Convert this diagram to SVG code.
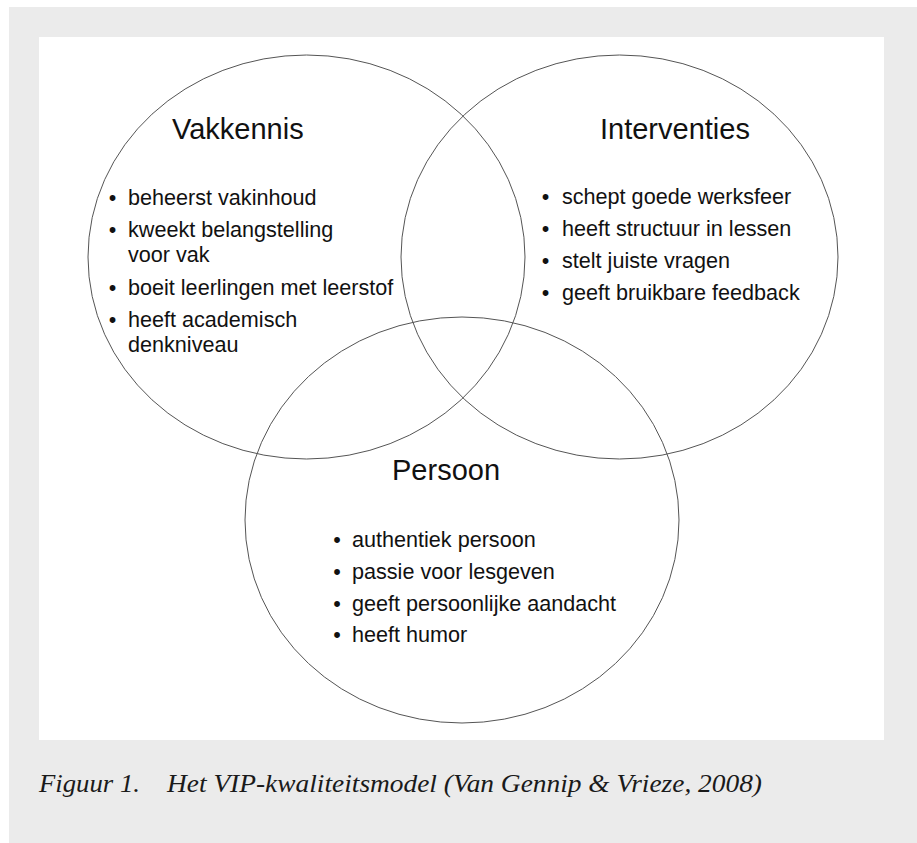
<svg xmlns="http://www.w3.org/2000/svg" width="917" height="843" viewBox="0 0 917 843">
  <style>
    .ring { fill: none; stroke: #555555; stroke-width: 1; }
    .head { font-family: "Liberation Sans", Arial, sans-serif; font-size: 29px; fill: #111; }
    .item { font-family: "Liberation Sans", Arial, sans-serif; font-size: 21.6px; fill: #111; }
    .dot  { font-family: "Liberation Sans", Arial, sans-serif; font-size: 21.6px; fill: #111; text-anchor: middle; }
    .cap  { font-family: "Liberation Serif", "Times New Roman", serif; font-style: italic; font-size: 25px; fill: #1a1a1a; }
  </style>

  <!-- page frame -->
  <rect x="9" y="7" width="908" height="836" fill="#ebebeb"/>
  <rect x="39" y="37" width="845" height="703" fill="#ffffff"/>

  <g id="vakkennis">
    <ellipse class="ring" cx="306.5" cy="257" rx="218.5" ry="202"/>
    <text class="head" x="172" y="139">Vakkennis</text>
    <text class="dot" x="112.5" y="205">•</text>
    <text class="item" x="128" y="205">beheerst vakinhoud</text>
    <text class="dot" x="112.5" y="237">•</text>
    <text class="item" x="128" y="237">kweekt belangstelling</text>
    <text class="item" x="128" y="262">voor vak</text>
    <text class="dot" x="112.5" y="295">•</text>
    <text class="item" x="128" y="295">boeit leerlingen met leerstof</text>
    <text class="dot" x="112.5" y="327">•</text>
    <text class="item" x="128" y="327">heeft academisch</text>
    <text class="item" x="128" y="352">denkniveau</text>
  </g>

  <g id="interventies">
    <ellipse class="ring" cx="619.5" cy="257" rx="218.5" ry="202"/>
    <text class="head" x="600" y="139">Interventies</text>
    <text class="dot" x="545.5" y="204">•</text>
    <text class="item" x="562" y="204">schept goede werksfeer</text>
    <text class="dot" x="545.5" y="236">•</text>
    <text class="item" x="562" y="236">heeft structuur in lessen</text>
    <text class="dot" x="545.5" y="268">•</text>
    <text class="item" x="562" y="268">stelt juiste vragen</text>
    <text class="dot" x="545.5" y="300">•</text>
    <text class="item" x="562" y="300">geeft bruikbare feedback</text>
  </g>

  <g id="persoon">
    <ellipse class="ring" cx="462" cy="520" rx="217" ry="203"/>
    <text class="head" x="392" y="480">Persoon</text>
    <text class="dot" x="337" y="547">•</text>
    <text class="item" x="352" y="547">authentiek persoon</text>
    <text class="dot" x="337" y="579">•</text>
    <text class="item" x="352" y="579">passie voor lesgeven</text>
    <text class="dot" x="337" y="611">•</text>
    <text class="item" x="352" y="611">geeft persoonlijke aandacht</text>
    <text class="dot" x="337" y="642">•</text>
    <text class="item" x="352" y="642">heeft humor</text>
  </g>

  <!-- caption -->
  <g id="caption">
    <text class="cap" x="39" y="792" textLength="101" lengthAdjust="spacingAndGlyphs">Figuur 1.</text>
    <text class="cap" x="167" y="792" textLength="595" lengthAdjust="spacingAndGlyphs">Het VIP-kwaliteitsmodel (Van Gennip &amp; Vrieze, 2008)</text>
  </g>
</svg>
